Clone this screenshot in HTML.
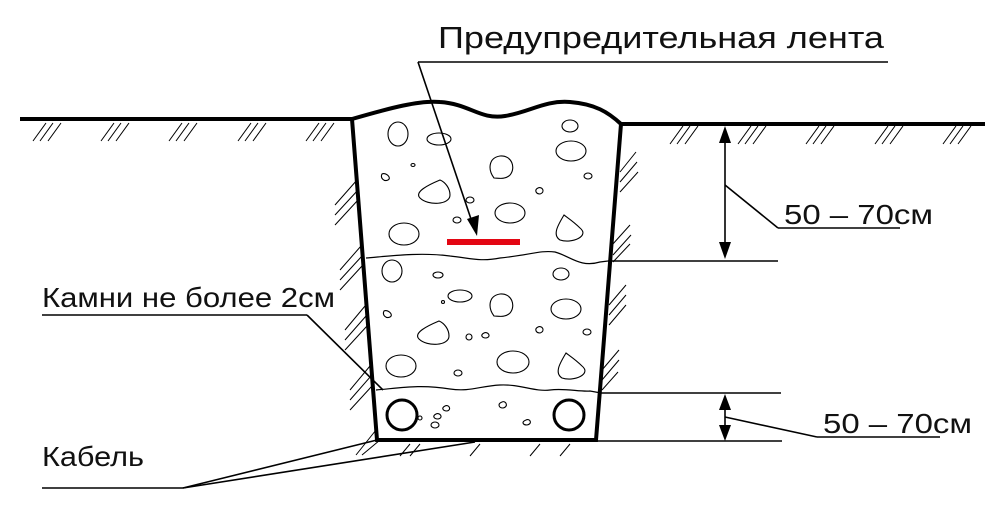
<!DOCTYPE html>
<html><head><meta charset="utf-8"><style>
html,body{margin:0;padding:0;background:#fff;}
svg{display:block;}
text{font-family:"Liberation Sans","DejaVu Sans",sans-serif;fill:#111;}
</style></head><body>
<svg width="1003" height="509" viewBox="0 0 1003 509" xmlns="http://www.w3.org/2000/svg">
<g stroke="#000" stroke-width="4" fill="none">
<line x1="20" y1="119" x2="352" y2="119"/>
<line x1="621" y1="124" x2="985" y2="124"/>
<path d="M352,119 C390,108 420,100 440,102 C470,104 480,120 505,116 C530,112 545,100 570,102 C595,104 608,112 621,124"/>
<path d="M352,119 L377,440 L596,440 L621,124"/>
<circle cx="402" cy="415" r="15" stroke-width="3"/>
<circle cx="569" cy="415" r="15" stroke-width="3"/>
</g>
<g stroke="#000" stroke-width="1" fill="none">
<path d="M33,141 L46,123 M40,141 L53,123 M48,141 L61,123"/>
<path d="M101,141 L114,123 M108,141 L121,123 M116,141 L129,123"/>
<path d="M169,141 L182,123 M176,141 L189,123 M184,141 L197,123"/>
<path d="M238,141 L251,123 M245,141 L258,123 M253,141 L266,123"/>
<path d="M306,141 L319,123 M313,141 L326,123 M321,141 L334,123"/>
<path d="M670,144 L683,126 M677,144 L690,126 M685,144 L698,126"/>
<path d="M738,144 L751,126 M745,144 L758,126 M753,144 L766,126"/>
<path d="M806,144 L819,126 M813,144 L826,126 M821,144 L834,126"/>
<path d="M875,144 L888,126 M882,144 L895,126 M890,144 L903,126"/>
<path d="M943,144 L956,126 M950,144 L963,126 M958,144 L971,126"/>
<path d="M335,205 L357,180 M335,215 L358,190 M335,225 L358,200"/>
<path d="M340,270 L361,246 M340,280 L362,256 M340,290 L362,266"/>
<path d="M345,330 L365,306 M345,340 L366,316 M345,350 L367,326"/>
<path d="M350,390 L370,366 M350,400 L371,376 M350,410 L372,386"/>
<path d="M356,455 L376,430 M362,455 L380,440"/>
<path d="M620,172 L636,152 M620,182 L637,162 M620,192 L638,172"/>
<path d="M612,245 L630,225 M613,255 L631,235 M613,262 L630,244"/>
<path d="M609,305 L626,285 M609,315 L626,295 M609,325 L626,305"/>
<path d="M602,370 L619,350 M602,380 L619,360 M602,390 L618,372"/>
<path d="M400,456 L410,444 M410,456 L420,444 M470,456 L480,444 M530,456 L540,444 M560,456 L570,444"/>
</g>
<g stroke="#000" stroke-width="1.2" fill="none">
<path d="M366,258 C390,256 420,252 450,256 C470,258 480,262 500,258 C530,255 540,250 555,252 C570,256 580,268 600,262 L608,261"/>
<path d="M376,390 C400,388 420,384 450,389 C470,392 480,386 500,385 C520,384 535,392 550,390 C565,388 580,392 590,391 L601,393"/>
</g>
<g stroke="#000" stroke-width="1.1" fill="none">
<ellipse cx="398" cy="134" rx="10" ry="12"/>
<ellipse cx="439" cy="139" rx="12" ry="6"/>
<ellipse cx="570" cy="126" rx="8" ry="6"/>
<ellipse cx="571" cy="151" rx="15" ry="10"/>
<ellipse cx="510" cy="213" rx="15" ry="10"/>
<ellipse cx="404" cy="234" rx="15" ry="11"/>
<ellipse cx="588" cy="176" rx="4" ry="3"/>
<ellipse cx="457" cy="220" rx="4" ry="3"/>
<ellipse cx="470" cy="200" rx="4" ry="3"/>
<ellipse cx="413" cy="165" rx="2" ry="1.5"/>
<path d="M494,178 C488,170 488,158 500,156 C512,155 516,168 510,175 C505,180 498,178 494,178 Z"/>
<path d="M440,180 C428,185 414,192 420,198 C428,206 450,205 450,195 C450,188 445,182 440,180 Z"/>
<path d="M564,215 C558,225 552,235 560,240 C572,244 590,236 580,228 C574,222 568,218 564,215 Z"/>
<path d="M382,174 C386,172 392,178 388,180 C384,182 380,178 382,174 Z"/>
<path d="M538,188 C542,186 546,192 540,194 C536,194 534,190 538,188 Z"/>
<ellipse cx="392" cy="271" rx="10" ry="11"/>
<ellipse cx="438" cy="275" rx="5" ry="3"/>
<ellipse cx="460" cy="296" rx="12" ry="6"/>
<ellipse cx="561" cy="274" rx="8" ry="6"/>
<ellipse cx="566" cy="309" rx="15" ry="10"/>
<ellipse cx="587" cy="332" rx="4" ry="3"/>
<ellipse cx="469" cy="337" rx="3" ry="3"/>
<ellipse cx="513" cy="362" rx="16" ry="11"/>
<ellipse cx="401" cy="366" rx="15" ry="11"/>
<ellipse cx="458" cy="373" rx="4" ry="3"/>
<ellipse cx="443" cy="302" rx="1.5" ry="1.5"/>
<path d="M494,316 C488,308 488,296 500,294 C512,293 516,306 510,313 C505,318 498,316 494,316 Z"/>
<path d="M439,321 C427,326 413,333 419,339 C427,347 449,346 449,336 C449,329 444,323 439,321 Z"/>
<path d="M566,353 C560,363 554,373 562,378 C574,382 592,374 582,366 C576,360 570,356 566,353 Z"/>
<path d="M384,311 C388,309 394,315 390,317 C386,319 382,315 384,311 Z"/>
<path d="M538,327 C542,325 546,331 540,333 C536,333 534,329 538,327 Z"/>
<path d="M484,333 C488,331 492,337 486,338 C482,338 480,335 484,333 Z"/>
<path d="M445,406 C449,404 452,410 447,411 C443,411 441,408 445,406 Z"/>
<path d="M502,402 C506,400 509,407 503,408 C499,408 497,404 502,402 Z"/>
<path d="M436,414 C440,412 444,418 438,419 C434,419 432,416 436,414 Z"/>
<path d="M526,420 C530,418 533,424 527,425 C523,425 521,422 526,420 Z"/>
<ellipse cx="435" cy="425" rx="4" ry="3"/>
<ellipse cx="420" cy="418" rx="2" ry="2"/>
</g>
<!-- red tape -->
<rect x="447" y="239" width="73" height="6" fill="#e30613"/>
<!-- leaders -->
<g stroke="#000" stroke-width="1.6" fill="none">
<line x1="418" y1="62" x2="888" y2="62"/>
<line x1="418" y1="62" x2="472" y2="222"/>
<line x1="42" y1="315" x2="307" y2="315"/>
<line x1="307" y1="315" x2="383" y2="390"/>
<line x1="42" y1="488" x2="183" y2="488"/>
<line x1="183" y1="488" x2="377" y2="440"/>
<line x1="183" y1="488" x2="475" y2="442"/>
<line x1="608" y1="261" x2="778" y2="261"/>
<line x1="600" y1="393" x2="781" y2="393"/>
<line x1="596" y1="441" x2="782" y2="441"/>
<line x1="725" y1="140" x2="725" y2="245"/>
<line x1="725" y1="185" x2="778" y2="228"/>
<line x1="778" y1="228" x2="900" y2="228"/>
<line x1="725" y1="405" x2="725" y2="430"/>
<line x1="725" y1="417" x2="817" y2="437"/>
<line x1="817" y1="437" x2="940" y2="437"/>
</g>
<g fill="#000">
<path d="M477,236 L467,219 L479,215 Z"/>
<path d="M725,126 L719,143 L731,143 Z"/>
<path d="M725,259 L719,242 L731,242 Z"/>
<path d="M725,394 L719,410 L731,410 Z"/>
<path d="M725,441 L719,425 L731,425 Z"/>
</g>
<text x="438" y="48" font-size="31" textLength="446" lengthAdjust="spacingAndGlyphs">Предупредительная лента</text>
<text x="42" y="307" font-size="28" textLength="293" lengthAdjust="spacingAndGlyphs">Камни не более 2см</text>
<text x="42" y="466" font-size="28" textLength="102" lengthAdjust="spacingAndGlyphs">Кабель</text>
<text x="784" y="224" font-size="28" textLength="149" lengthAdjust="spacingAndGlyphs">50 – 70см</text>
<text x="823" y="433" font-size="28" textLength="149" lengthAdjust="spacingAndGlyphs">50 – 70см</text>
</svg>
</body></html>
